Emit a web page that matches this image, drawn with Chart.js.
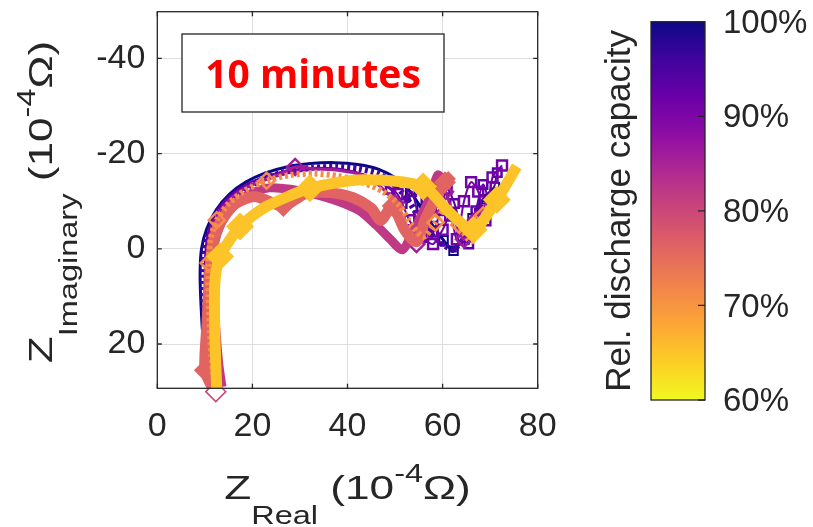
<!DOCTYPE html>
<html><head><meta charset="utf-8">
<script src="https://cdn.jsdelivr.net/npm/chart.js@4.4.1/dist/chart.umd.min.js"></script>
<style>html,body{margin:0;padding:0;background:#fff;overflow:hidden}</style>
</head><body>
<canvas id="c" width="813" height="527" style="width:813px;height:527px;display:block"></canvas>
<script>
// ---------- data (units: 1e-4 Ohm) ----------
const xTicks = [0, 20, 40, 60, 80];
const yTicks = [-40, -20, 0, 20];
const cbarTicks = [60, 70, 80, 90, 100];
const cbarLabels = ['60%', '70%', '80%', '90%', '100%'];
const capacities = [100, 96, 93, 91, 86, 82, 80, 76, 71, 65];

const zReal100 = [10.4, 9.7, 9.2, 9.0, 9.3, 10.4, 12.4, 15.2, 18.6, 22.6, 27.2, 32.2, 37.3, 42.2, 46.6, 50.2, 53.2, 55.6, 58.0, 60.2, 62.3, 64.2, 66.3, 68.6, 71.0];
const zImag100 = [27.0, 20.0, 12.0, 5.0, 0.0, -4.2, -8.2, -11.5, -14.0, -15.9, -17.2, -17.9, -18.1, -17.7, -16.7, -14.8, -12.0, -8.4, -4.8, -1.8, 0.4, -2.3, -6.4, -10.4, -13.0];

const zReal96 = [10.9, 10.1, 9.7, 9.6, 9.9, 11.0, 13.0, 15.8, 19.2, 23.2, 27.7, 32.6, 37.6, 42.4, 46.6, 50.0, 52.7, 55.1, 57.5, 60.0, 62.4, 64.8, 67.2, 69.6];
const zImag96 = [27.5, 20.0, 12.0, 5.0, 0.2, -3.8, -7.6, -10.7, -13.1, -15.0, -16.3, -17.0, -17.2, -16.8, -15.7, -13.4, -10.3, -6.4, -3.2, -1.0, 0.2, -3.6, -8.0, -11.2];

const zReal93 = [11.2, 10.4, 10.0, 10.1, 10.8, 12.8, 16.5, 21.5, 27.5, 33.5, 39.5, 45.0, 49.0, 51.5, 53.5, 55.0, 56.5, 58.0, 59.5, 61.0, 62.5, 64.0, 65.5, 67.0, 68.5, 70.0, 71.5];
const zImag93 = [28.0, 19.0, 9.0, 1.0, -4.0, -8.5, -12.2, -14.8, -16.4, -17.0, -16.6, -15.0, -12.5, -9.5, -12.0, -7.0, -10.5, -3.5, -8.0, -12.5, -9.5, -4.0, -1.0, -8.0, -13.5, -10.0, -16.0];

const zReal91 = [11.6, 10.6, 10.1, 10.3, 11.5, 14.0, 18.0, 24.0, 30.0, 36.0, 42.0, 47.0, 50.5, 53.0, 55.5, 58.0, 60.0, 61.6, 63.0, 64.5, 66.0, 67.5, 69.0, 70.5, 72.5];
const zImag91 = [28.0, 18.0, 8.0, 0.0, -5.0, -9.5, -12.8, -15.0, -16.4, -16.8, -16.0, -14.0, -11.5, -6.0, -2.5, -1.0, -4.0, -7.0, -2.0, -10.0, -14.0, -12.0, -6.0, -15.0, -17.5];

const zReal86 = [12.0, 11.0, 10.5, 10.5, 11.2, 13.0, 16.0, 20.0, 25.0, 29.0, 33.0, 38.0, 43.0, 47.0, 50.0, 52.5, 54.5, 56.5, 58.5, 60.5, 62.5, 64.5, 67.0, 69.5];
const zImag86 = [29.0, 20.0, 10.0, 2.0, -3.0, -7.5, -11.0, -13.5, -15.3, -17.2, -16.8, -16.5, -15.5, -13.0, -9.5, -4.0, -1.0, -4.5, -9.0, -12.0, -6.0, -2.0, -6.0, -10.0];

const zReal82 = [13.6, 12.9, 12.1, 11.6, 12.0, 13.5, 16.0, 19.5, 23.5, 28.0, 33.0, 38.0, 42.5, 46.0, 49.0, 51.5, 53.5, 55.5, 57.5, 59.0, 60.5];
const zImag82 = [29.0, 24.0, 14.0, 5.0, -1.0, -5.5, -9.0, -11.5, -12.8, -12.5, -11.5, -10.0, -8.0, -5.0, -2.0, 0.2, -3.0, -7.0, -11.0, -15.5, -14.0];

const zReal80 = [12.3];
const zImag80 = [30.0];

const zReal76 = [11.5, 10.0, 10.5, 11.0, 11.8, 13.5, 16.5, 20.5, 26.5, 31.0, 36.0, 41.0, 45.0, 47.0, 49.5, 52.0, 54.5, 56.5, 58.5, 60.5, 62.0];
const zImag76 = [29.0, 25.5, 15.0, 5.0, -1.5, -6.0, -9.5, -11.0, -9.0, -11.5, -11.8, -10.8, -8.5, -6.0, -9.0, -4.0, -1.5, -6.5, -10.5, -14.0, -15.5];

const zReal71 = [12.0, 11.2, 10.8, 10.8, 11.2, 12.5, 15.0, 18.5, 23.0, 28.0, 33.0, 38.0, 43.0, 47.5, 51.0, 53.5, 56.0, 58.5, 61.0, 63.5, 66.0, 68.5, 71.0];
const zImag71 = [29.0, 20.0, 10.0, 3.0, -2.0, -6.0, -9.5, -12.3, -14.3, -15.5, -15.8, -15.3, -14.0, -12.0, -9.0, -5.0, -2.5, -5.5, -9.0, -5.0, -1.5, -7.0, -11.0];

const zReal65 = [12.5, 12.1, 12.1, 13.2, 17.4, 23.0, 32.1, 43.3, 55.9, 61.6, 66.5, 71.4, 75.6];
const zImag65 = [29.3, 17.7, 7.2, 1.6, -4.7, -8.9, -12.7, -14.5, -13.1, -7.5, -4.0, -10.3, -17.3];

// ---------- plasma colormap ----------
const PLASMA = [[13,8,135],[65,4,157],[106,0,168],[143,13,164],[177,42,144],[204,71,120],[225,100,98],[242,132,75],[252,166,54],[252,206,37],[240,249,33]];
function plasma(t){
  t = Math.max(0, Math.min(1, t)); const f = t*10; const i = Math.min(9, Math.floor(f)); const u = f - i;
  const a = PLASMA[i], b = PLASMA[i+1];
  return 'rgb(' + a.map((v,k)=>Math.round(v+(b[k]-v)*u)).join(',') + ')';
}
const capColor = c => plasma((100 - c) / 40);
const pts = (xs, ys) => xs.map((x, i) => ({x, y: ys[i]}));
const radiusAt = (n, idx, r) => Array.from({length: n}, (_, i) => idx.includes(i) ? r : 0);
const radiusFrom = (n, start, r) => Array.from({length: n}, (_, i) => i >= start ? r : 0);
const HOLLOW = 'rgba(255,255,255,0)';

const series = [
  {cap:100, xs:zReal100, ys:zImag100, style:{borderWidth:3, pointStyle:'rect', pointRadius:radiusFrom(zReal100.length,16,6), pointBackgroundColor:HOLLOW, pointBorderWidth:2}},
  {cap:96, xs:zReal96, ys:zImag96, style:{borderWidth:6, borderDash:[3,3], pointStyle:'rect', pointRadius:radiusFrom(zReal96.length,15,4)}},
  {cap:93, xs:zReal93, ys:zImag93, style:{borderWidth:2, pointStyle:'rect', pointRadius:radiusFrom(zReal93.length,12,6), pointBackgroundColor:HOLLOW, pointBorderWidth:2.5}},
  {cap:91, xs:zReal91, ys:zImag91, style:{borderWidth:2, pointStyle:'rect', pointRadius:radiusFrom(zReal91.length,12,7), pointBackgroundColor:HOLLOW, pointBorderWidth:2.5}},
  {cap:86, xs:zReal86, ys:zImag86, style:{borderWidth:3, pointStyle:'rectRot', pointRadius:radiusAt(zReal86.length,[9,14,16,18,19,21,22],8), pointBackgroundColor:HOLLOW, pointBorderWidth:2.5}},
  {cap:82, xs:zReal82, ys:zImag82, style:{borderWidth:9, pointRadius:0}},
  {cap:80, xs:zReal80, ys:zImag80, style:{showLine:false, pointStyle:'rectRot', pointRadius:10, pointBackgroundColor:HOLLOW, pointBorderWidth:1.5, clip:false}},
  {cap:76, xs:zReal76, ys:zImag76, style:{borderWidth:11, pointStyle:'rectRot', pointRadius:radiusAt(zReal76.length,[1,8,14,19],11)}},
  {cap:71, xs:zReal71, ys:zImag71, style:{borderWidth:6, borderDash:[3,3], pointStyle:'rectRot', pointRadius:radiusAt(zReal71.length,[3,5,8,17,19,21],8), pointBackgroundColor:HOLLOW, pointBorderWidth:2.5}},
  {cap:65, xs:zReal65, ys:zImag65, style:{borderWidth:11, pointStyle:'rectRot', pointRadius:radiusAt(zReal65.length,[3,4,6,8,10,11],14)}},
];

const datasets = series.map(s => {
  const col = capColor(s.cap);
  return Object.assign({
    label: s.cap + '%', data: pts(s.xs, s.ys), order: s.cap, showLine: true,
    borderColor: col, backgroundColor: col, pointBorderColor: col, pointBackgroundColor: col,
    tension: 0.25, borderJoinStyle: 'miter', pointHoverRadius: 0, pointBorderWidth: 0
  }, s.style);
});

const FONT = '"Liberation Sans", Arial, Helvetica, sans-serif';
const TXT = '#262626';
const TITLE_STRETCH = 1.3;

function drawRich(ctx, parts, cx, baseY, stretch){
  let w = 0;
  parts.forEach(p => { ctx.font = p.size + 'px ' + FONT; p.w = ctx.measureText(p.t).width; w += p.w; });
  ctx.save();
  ctx.translate(cx, baseY); ctx.scale(stretch, 1);
  let x = -w/2;
  ctx.textAlign = 'left'; ctx.textBaseline = 'alphabetic'; ctx.fillStyle = TXT;
  parts.forEach(p => { ctx.font = p.size + 'px ' + FONT; ctx.fillText(p.t, x, (p.dy||0)); x += p.w; });
  ctx.restore();
}

const titleParts = sub => [{t:'Z', size:34}, {t:sub, size:25, dy:25}, {t:' (10', size:34}, {t:'-4', size:25, dy:-17}, {t:'\u03A9)', size:34}];

const deco = {
  id: 'deco',
  beforeDraw(chart){
    const ctx = chart.ctx; ctx.save(); ctx.fillStyle = '#fff'; ctx.fillRect(0,0,chart.width,chart.height); ctx.restore();
  },
  afterDraw(chart){
    const ctx = chart.ctx, a = chart.chartArea, sx = chart.scales.x, sy = chart.scales.y;
    ctx.save();
    // axes box
    ctx.strokeStyle = TXT; ctx.lineWidth = 1.3;
    ctx.strokeRect(a.left, a.top, a.right - a.left, a.bottom - a.top);
    const tl = 4.5;
    ctx.beginPath();
    xTicks.forEach(v => { const p = sx.getPixelForValue(v); ctx.moveTo(p, a.bottom); ctx.lineTo(p, a.bottom - tl); ctx.moveTo(p, a.top); ctx.lineTo(p, a.top + tl); });
    yTicks.forEach(v => { const p = sy.getPixelForValue(v); ctx.moveTo(a.left, p); ctx.lineTo(a.left + tl, p); ctx.moveTo(a.right, p); ctx.lineTo(a.right - tl, p); });
    ctx.stroke();

    // annotation box
    ctx.fillStyle = '#fff'; ctx.fillRect(182, 34, 262, 78);
    ctx.strokeStyle = TXT; ctx.lineWidth = 1.3; ctx.strokeRect(182, 34, 262, 78);
    ctx.fillStyle = '#ff0000'; ctx.font = 'bold 39px "Open Sans", sans-serif';
    ctx.textAlign = 'center'; ctx.textBaseline = 'alphabetic';
    ctx.fillText('10 minutes', 313, 88);

    // axis titles
    drawRich(ctx, titleParts('Real'), (a.left + a.right)/2, 499, TITLE_STRETCH);
    ctx.save(); ctx.translate(52, (a.top + a.bottom)/2 + 2); ctx.rotate(-Math.PI/2);
    drawRich(ctx, titleParts('Imaginary'), 0, 0, TITLE_STRETCH);
    ctx.restore();

    // colorbar
    const cb = {l:651, r:705, t:21.7, b:400};
    const g = ctx.createLinearGradient(0, cb.t, 0, cb.b);
    PLASMA.forEach((c, i) => g.addColorStop(i/10, 'rgb(' + c.join(',') + ')'));
    ctx.fillStyle = g; ctx.fillRect(cb.l, cb.t, cb.r - cb.l, cb.b - cb.t);
    ctx.strokeStyle = TXT; ctx.lineWidth = 1.3; ctx.strokeRect(cb.l, cb.t, cb.r - cb.l, cb.b - cb.t);
    const cy = v => cb.b - (v - 60) / 40 * (cb.b - cb.t);
    ctx.beginPath();
    cbarTicks.forEach(v => { ctx.moveTo(cb.r, cy(v)); ctx.lineTo(cb.r - 7, cy(v)); });
    ctx.stroke();
    ctx.fillStyle = TXT; ctx.font = '33px ' + FONT; ctx.textAlign = 'left'; ctx.textBaseline = 'middle';
    cbarTicks.forEach((v, i) => ctx.fillText(cbarLabels[i], 723, cy(v) + 2));
    ctx.save(); ctx.translate(630, (cb.t + cb.b)/2); ctx.rotate(-Math.PI/2);
    ctx.textAlign = 'center'; ctx.textBaseline = 'alphabetic'; ctx.font = '35px ' + FONT;
    ctx.fillText('Rel. discharge capacity', 0, 0);
    ctx.restore();
    ctx.restore();
  }
};

new Chart(document.getElementById('c'), {
  type: 'scatter',
  data: { datasets },
  options: {
    responsive: false, animation: false, devicePixelRatio: 1,
    layout: { padding: { top: 11.7, right: 275.3, left: 0, bottom: 0 } },
    plugins: { legend: { display: false }, tooltip: { enabled: false } },
    scales: {
      x: {
        type: 'linear', min: 0, max: 80,
        afterBuildTicks: s => { s.ticks = xTicks.map(v => ({value: v})); },
        afterFit: s => { s.height = 527 - 388.3; s.paddingLeft = 0; s.paddingRight = 0; },
        grid: { color: '#dedede', lineWidth: 1, drawTicks: false },
        border: { display: false },
        ticks: { color: TXT, font: { family: FONT, size: 34 }, padding: 18, maxRotation: 0, autoSkip: false }
      },
      y: {
        type: 'linear', reverse: true, min: -49.8, max: 29.3,
        afterBuildTicks: s => { s.ticks = yTicks.map(v => ({value: v})); },
        afterFit: s => { s.width = 157.3; s.paddingTop = 0; s.paddingBottom = 0; },
        grid: { color: '#dedede', lineWidth: 1, drawTicks: false },
        border: { display: false },
        ticks: { color: TXT, font: { family: FONT, size: 34 }, padding: 12, autoSkip: false }
      }
    }
  },
  plugins: [deco]
});
</script>
</body></html>
